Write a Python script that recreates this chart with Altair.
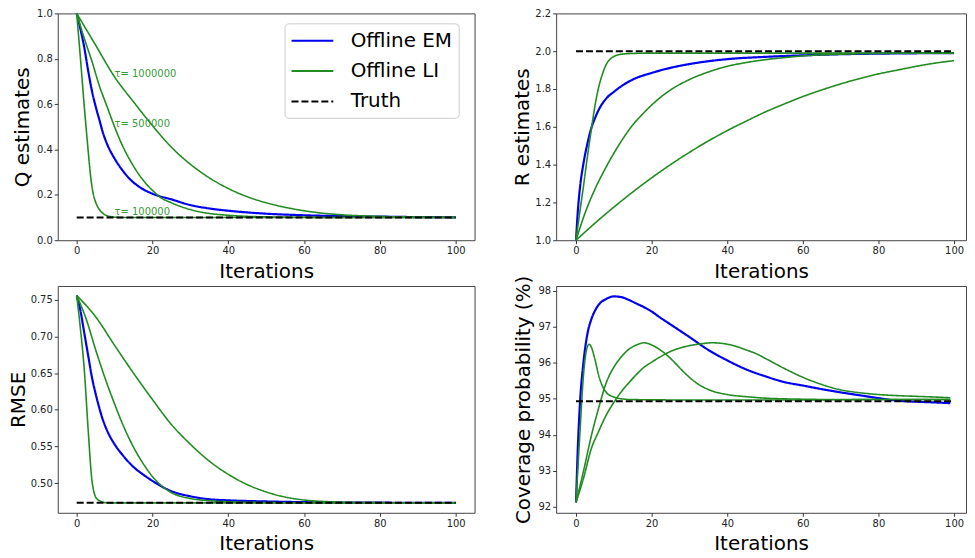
import altair as alt
import pandas as pd

FONT = "DejaVu Sans"
BLUE = "#0000f0"
GREEN = "#228b22"
GREEN_TXT = "#3a9a3a"
SERIES = ["Offline EM", "Offline LI", "Truth"]

# ---------------- Q estimates (top-left) ----------------
q_em_x = [0, 1, 2, 3, 4, 5, 6, 7, 8, 10, 12, 14, 17, 20, 25, 30, 35, 40, 50, 60, 70, 80, 90, 100]
q_em_y = [1.0, 0.93, 0.85, 0.75, 0.66, 0.59, 0.53, 0.47, 0.425, 0.36, 0.31, 0.27, 0.23, 0.205, 0.18, 0.155, 0.14, 0.13, 0.117, 0.11, 0.106, 0.104, 0.102, 0.101]
q_li1_x = [0, 1, 2, 3, 3.5, 4, 4.5, 5, 6, 7, 8, 9, 10, 12, 15, 20, 30, 50, 70, 100]
q_li1_y = [1.0, 0.8, 0.59, 0.40, 0.31, 0.24, 0.195, 0.168, 0.135, 0.117, 0.108, 0.104, 0.102, 0.1, 0.1, 0.1, 0.1, 0.1, 0.1, 0.1]
q_li2_x = [0, 2, 4, 6, 8, 10, 12, 14, 16, 18, 20, 22, 25, 30, 35, 40, 45, 50, 60, 70, 100]
q_li2_y = [1.0, 0.89, 0.79, 0.68, 0.59, 0.50, 0.42, 0.355, 0.30, 0.255, 0.22, 0.19, 0.165, 0.135, 0.118, 0.11, 0.105, 0.103, 0.101, 0.1, 0.1]
q_li3_x = [0, 5, 10, 15, 20, 25, 30, 35, 40, 45, 50, 55, 60, 65, 70, 80, 90, 100]
q_li3_y = [1.0, 0.86, 0.72, 0.61, 0.505, 0.41, 0.335, 0.275, 0.228, 0.192, 0.165, 0.145, 0.13, 0.119, 0.112, 0.105, 0.102, 0.101]
q_truth_x = [0, 100]
q_truth_y = [0.1, 0.1]
q_ann_x = [10, 10, 10]
q_ann_y = [0.72, 0.50, 0.11]
q_ann_text = ["τ= 1000000", "τ= 500000", "τ= 100000"]

# ---------------- R estimates (top-right) ----------------
r_em_x = [0, 0.5, 1, 2, 3, 4, 5, 6, 8, 10, 12, 15, 20, 25, 30, 35, 40, 50, 60, 70, 80, 90, 100]
r_em_y = [1.0, 1.16, 1.27, 1.41, 1.51, 1.59, 1.645, 1.69, 1.75, 1.785, 1.815, 1.85, 1.885, 1.912, 1.932, 1.947, 1.958, 1.97, 1.978, 1.984, 1.987, 1.989, 1.99]
r_li1_x = [0, 1, 2, 3, 4, 5, 6, 7, 8, 9, 10, 12, 15, 20, 40, 70, 100]
r_li1_y = [1.0, 1.15, 1.29, 1.44, 1.58, 1.71, 1.81, 1.88, 1.93, 1.958, 1.972, 1.984, 1.988, 1.99, 1.99, 1.99, 1.99]
r_li2_x = [0, 2.5, 5, 7.5, 10, 12.5, 15, 17.5, 20, 25, 30, 35, 40, 45, 50, 55, 60, 70, 80, 100]
r_li2_y = [1.0, 1.15, 1.27, 1.37, 1.46, 1.54, 1.61, 1.665, 1.715, 1.795, 1.85, 1.89, 1.92, 1.94, 1.955, 1.966, 1.975, 1.984, 1.988, 1.99]
r_li3_x = [0, 5, 10, 15, 20, 25, 30, 35, 40, 45, 50, 55, 60, 65, 70, 75, 80, 85, 90, 95, 100]
r_li3_y = [1.0, 1.09, 1.175, 1.255, 1.33, 1.40, 1.465, 1.525, 1.58, 1.63, 1.678, 1.72, 1.76, 1.795, 1.827, 1.855, 1.88, 1.90, 1.92, 1.937, 1.95]
r_truth_x = [0, 100]
r_truth_y = [2.0, 2.0]

# ---------------- RMSE (bottom-left) ----------------
m_em_x = [0, 1, 2, 3, 4, 5, 6, 7, 8, 10, 12, 15, 18, 20, 25, 30, 35, 40, 50, 60, 70, 80, 100]
m_em_y = [0.756, 0.735, 0.705, 0.675, 0.645, 0.622, 0.602, 0.585, 0.572, 0.553, 0.539, 0.522, 0.51, 0.503, 0.489, 0.482, 0.478, 0.4765, 0.475, 0.474, 0.4735, 0.4733, 0.473]
m_li1_x = [0, 1, 2, 3, 4, 4.5, 5, 6, 7, 8, 10, 20, 50, 100]
m_li1_y = [0.756, 0.71, 0.655, 0.575, 0.505, 0.489, 0.481, 0.476, 0.4738, 0.4732, 0.473, 0.473, 0.473, 0.473]
m_li2_x = [0, 2.5, 5, 7.5, 10, 12.5, 15, 17.5, 20, 22.5, 25, 30, 35, 40, 50, 60, 100]
m_li2_y = [0.756, 0.724, 0.682, 0.643, 0.608, 0.576, 0.549, 0.527, 0.509, 0.496, 0.487, 0.479, 0.476, 0.4745, 0.4735, 0.473, 0.473]
m_li3_x = [0, 5, 10, 15, 20, 25, 30, 35, 40, 45, 50, 55, 60, 65, 70, 80, 100]
m_li3_y = [0.756, 0.727, 0.688, 0.65, 0.614, 0.58, 0.553, 0.53, 0.512, 0.498, 0.488, 0.481, 0.477, 0.475, 0.474, 0.4733, 0.473]
m_truth_x = [0, 100]
m_truth_y = [0.4733, 0.4733]

# ---------------- Coverage probability (bottom-right) ----------------
c_em_x = [0, 0.5, 1, 2, 3, 4, 5, 6, 8, 10, 12, 14, 16, 18, 20, 22, 25, 28, 30, 35, 40, 45, 50, 55, 60, 65, 70, 75, 80, 85, 90, 95, 99]
c_em_y = [92.12, 93.7, 94.8, 96.05, 96.8, 97.2, 97.45, 97.62, 97.78, 97.85, 97.83, 97.75, 97.65, 97.55, 97.43, 97.28, 97.07, 96.86, 96.72, 96.36, 96.07, 95.82, 95.63, 95.47, 95.37, 95.27, 95.18, 95.1, 95.02, 94.95, 94.92, 94.9, 94.88]
c_li1_x = [0, 1, 2, 3, 3.5, 4, 5, 6, 7, 8, 10, 12, 15, 25, 40, 60, 80, 99]
c_li1_y = [92.12, 94.0, 95.7, 96.45, 96.52, 96.45, 96.1, 95.65, 95.35, 95.18, 95.05, 95.0, 94.98, 94.97, 94.97, 94.97, 94.98, 94.98]
c_li2_x = [0, 2, 4, 6, 8, 10, 12, 14, 16, 18, 20, 22, 24, 26, 28, 30, 32, 35, 40, 45, 50, 60, 70, 80, 99]
c_li2_y = [92.12, 93.0, 93.95, 94.75, 95.45, 95.88, 96.17, 96.38, 96.5, 96.56, 96.5, 96.38, 96.22, 96.02, 95.8, 95.6, 95.43, 95.26, 95.12, 95.06, 95.02, 94.99, 94.98, 94.98, 94.98]
c_li3_x = [0, 2, 4, 6, 8, 10, 12, 14, 16, 18, 20, 22, 25, 28, 30, 33, 36, 40, 42, 45, 48, 50, 55, 60, 65, 70, 75, 80, 85, 90, 95, 99]
c_li3_y = [92.12, 92.8, 93.6, 94.1, 94.55, 94.9, 95.2, 95.45, 95.68, 95.88, 96.02, 96.15, 96.32, 96.43, 96.48, 96.53, 96.56, 96.52, 96.47, 96.36, 96.24, 96.13, 95.85, 95.6, 95.4, 95.25, 95.17, 95.12, 95.09, 95.07, 95.05, 95.03]
c_truth_x = [0, 100]
c_truth_y = [94.93, 94.93]


def build(em, lis, truth):
    rows = []
    for x, y in zip(*em):
        rows.append(dict(x=x, y=y, series="Offline EM", curve="a_em", w=2.2))
    for i, (xs, ys) in enumerate(lis):
        for x, y in zip(xs, ys):
            rows.append(dict(x=x, y=y, series="Offline LI", curve=f"b_li{i}", w=1.6))
    for x, y in zip(*truth):
        rows.append(dict(x=x, y=y, series="Truth", curve="c_truth", w=2.0))
    return pd.DataFrame(rows)


color_scale = alt.Scale(domain=SERIES, range=[BLUE, GREEN, "black"])
dash_scale = alt.Scale(domain=SERIES, range=[[1, 0], [1, 0], [7, 3]])


def x_axis():
    return alt.Axis(values=[0, 20, 40, 60, 80, 100], format="d", title="Iterations",
                    titleFontSize=20, titleFont=FONT, titleFontWeight="normal", titleColor="black",
                    titleBaseline="alphabetic", titleY=37,
                    labelFontSize=10, labelFont=FONT, labelColor="#222", labelPadding=2,
                    tickColor="#333", tickSize=3.5, domain=False, grid=False)


def y_axis(title, values, fmt, title_x):
    return alt.Axis(values=values, format=fmt, title=title,
                    titleFontSize=20, titleFont=FONT, titleFontWeight="normal", titleColor="black",
                    titleBaseline="alphabetic", titleX=title_x,
                    labelFontSize=10, labelFont=FONT, labelColor="#222", labelPadding=2,
                    tickColor="#333", tickSize=3.5, domain=False, grid=False)


def panel(df, xdom, ydom, yaxis, width, height, legend=None, ann=None):
    xs = alt.Scale(domain=xdom, nice=False, zero=False)
    ys = alt.Scale(domain=ydom, nice=False, zero=False)
    lines = alt.Chart(df).mark_line(interpolate="monotone", strokeCap="butt").encode(
        x=alt.X("x:Q", scale=xs, axis=x_axis()),
        y=alt.Y("y:Q", scale=ys, axis=yaxis),
        color=alt.Color("series:N", scale=color_scale, legend=legend),
        strokeDash=alt.StrokeDash("series:N", scale=dash_scale, legend=legend),
        detail="curve:N",
        strokeWidth=alt.StrokeWidth("w:Q", scale=None),
        order=alt.Order("x:Q"),
    )
    layers = [lines]
    if ann is not None:
        txt = alt.Chart(ann).mark_text(align="left", baseline="alphabetic", fontSize=10,
                                        font=FONT, color=GREEN_TXT).encode(
            x=alt.X("x:Q", scale=xs), y=alt.Y("y:Q", scale=ys), text="label:N")
        layers.append(txt)
    return alt.layer(*layers).properties(width=width, height=height).resolve_scale(
        color="independent", strokeDash="independent")


legend = alt.Legend(title=None, orient="none", legendX=228, legendY=10,
                    symbolType="M-2,0H2", symbolSize=441, symbolStrokeWidth=2,
                    symbolOffset=10.5, labelFontSize=20, labelFont=FONT, labelColor="black",
                    labelOffset=27, rowPadding=8.5, padding=6, fillColor="white",
                    strokeColor="#cccccc", cornerRadius=4, labelLimit=400)

df_q = build((q_em_x, q_em_y), [(q_li1_x, q_li1_y), (q_li2_x, q_li2_y), (q_li3_x, q_li3_y)], (q_truth_x, q_truth_y))
df_r = build((r_em_x, r_em_y), [(r_li1_x, r_li1_y), (r_li2_x, r_li2_y), (r_li3_x, r_li3_y)], (r_truth_x, r_truth_y))
df_m = build((m_em_x, m_em_y), [(m_li1_x, m_li1_y), (m_li2_x, m_li2_y), (m_li3_x, m_li3_y)], (m_truth_x, m_truth_y))
df_c = build((c_em_x, c_em_y), [(c_li1_x, c_li1_y), (c_li2_x, c_li2_y), (c_li3_x, c_li3_y)], (c_truth_x, c_truth_y))
df_ann = pd.DataFrame(dict(x=q_ann_x, y=q_ann_y, label=q_ann_text))

LW, RW, H = 419, 412, 228
LXD = [-5, 105]
RXD = [-5.26, 103.16]

p_q = panel(df_q, LXD, [0, 1], y_axis("Q estimates", [0, 0.2, 0.4, 0.6, 0.8, 1.0], ".1f", -29),
            LW, H, legend=legend, ann=df_ann)
p_r = panel(df_r, RXD, [1.0, 2.2], y_axis("R estimates", [1.0, 1.2, 1.4, 1.6, 1.8, 2.0, 2.2], ".1f", -28),
            RW, H, legend=None)
p_m = panel(df_m, LXD, [0.4595, 0.769], y_axis("RMSE", [0.5, 0.55, 0.6, 0.65, 0.7, 0.75], ".2f", -33),
            LW, H, legend=None)
p_c = panel(df_c, RXD, [91.83, 98.14], y_axis("Coverage probability (%)", [92, 93, 94, 95, 96, 97, 98], "d", -27),
            RW, H, legend=None)

chart = alt.concat(p_q, p_r, p_m, p_c, columns=2, spacing={"row": 46, "column": 82},
                   bounds="flush", padding={"left": 0, "top": -2, "right": 0, "bottom": 0}
                   ).resolve_scale(color="independent", strokeDash="independent", x="independent", y="independent"
                   ).configure(font=FONT, background="white"
                   ).configure_view(stroke="#444", strokeWidth=1)

chart.save("out.html", embed_options={"renderer": "svg", "actions": False})
